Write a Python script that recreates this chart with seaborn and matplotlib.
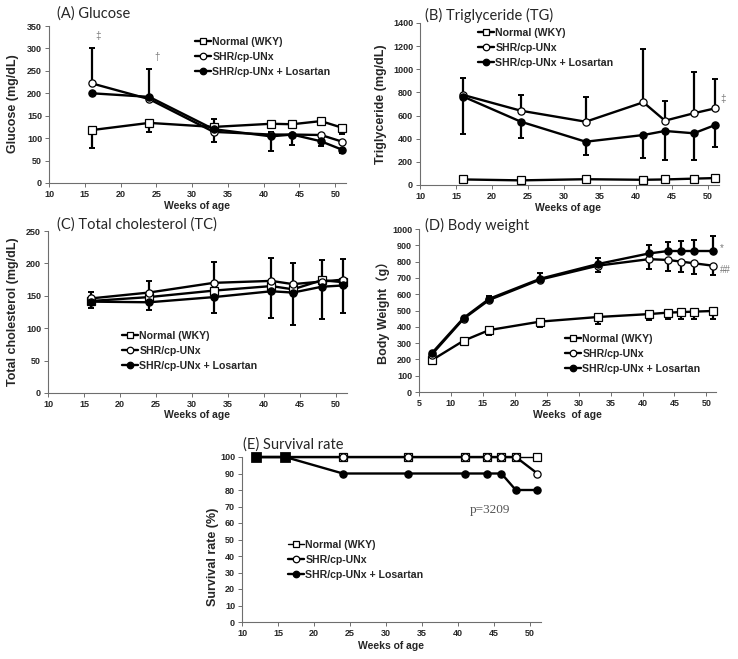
import numpy as np
import pandas as pd
import matplotlib
matplotlib.use("Agg")
import matplotlib.pyplot as plt
import seaborn as sns

# ============================================================
# Data
# ============================================================

groups = ["Normal (WKY)", "SHR/cp-UNx", "SHR/cp-UNx + Losartan"]

weeks = [16, 24, 33, 41, 44, 48, 51]

# (A) Glucose, mg/dL
glu_normal = [118, 134, 125, 132, 131, 138, 123]
glu_normal_lo = [39, 21, 0, 0, 0, 0, 14]
glu_normal_hi = [0, 0, 17, 0, 0, 0, 0]
glu_shr = [222, 187, 114, 108, 108, 107, 92]
glu_shr_lo = [0, 0, 22, 0, 0, 0, 0]
glu_shr_hi = [80, 0, 0, 0, 0, 0, 0]
glu_los = [200, 192, 120, 104, 108, 93, 74]
glu_los_lo = [0, 0, 0, 32, 23, 10, 7]
glu_los_hi = [0, 62, 0, 10, 0, 0, 0]

# (B) Triglyceride, mg/dL
tg_normal = [48, 40, 50, 45, 48, 55, 60]
tg_shr = [778, 642, 547, 715, 556, 620, 663]
tg_shr_hi = [150, 136, 210, 458, 170, 360, 250]
tg_los = [764, 547, 374, 432, 467, 447, 519]
tg_los_lo = [323, 144, 115, 196, 251, 231, 188]

# (C) Total cholesterol, mg/dL
tc_normal = [142, 148, 158, 165, 160, 174, 171]
tc_normal_hi = [0, 0, 0, 0, 0, 32, 0]
tc_shr = [146, 155, 170, 173, 168, 172, 175]
tc_shr_hi = [10, 18, 32, 36, 33, 0, 32]
tc_los = [141, 140, 148, 157, 155, 164, 166]
tc_los_lo = [10, 12, 24, 41, 50, 50, 42]

# (D) Body weight, g
weeks_bw = [7, 12, 16, 24, 33, 41, 44, 46, 48, 51]
bw_normal = [195, 315, 380, 432, 460, 478, 487, 490, 493, 497]
bw_normal_lo = [0, 0, 30, 32, 40, 38, 42, 45, 45, 50]
bw_shr = [230, 450, 565, 690, 775, 815, 810, 800, 790, 775]
bw_shr_lo = [0, 0, 0, 0, 38, 60, 65, 65, 65, 60]
bw_los = [238, 455, 572, 695, 785, 850, 865, 865, 865, 865]
bw_los_hi = [0, 0, 18, 35, 37, 52, 57, 63, 65, 90]

# (E) Survival rate, %
weeks_sv = [12, 16, 24, 33, 41, 44, 46, 48, 51]
sv_normal = [100, 100, 100, 100, 100, 100, 100, 100, 100]
sv_shr = [100, 100, 100, 100, 100, 100, 100, 100, 90]
sv_los = [100, 100, 90, 90, 90, 90, 90, 80, 80]

# ============================================================
# Styling / layout helpers
# ============================================================

sns.set_style("ticks")
plt.rcParams["font.family"] = ["Liberation Sans", "DejaVu Sans"]

W, H = 738, 659
fig = plt.figure(figsize=(W / 100, H / 100), dpi=100)


def box(l, t, r, b):
    return [l / W, 1 - b / H, (r - l) / W, (b - t) / H]


def fx(x):
    return x / W


def fy(y):
    return 1 - y / H


STYLE = {
    groups[0]: dict(marker="s", markerfacecolor="white"),
    groups[1]: dict(marker="o", markerfacecolor="white"),
    groups[2]: dict(marker="o", markerfacecolor="black"),
}


def draw_series(ax, x, y, name, lw=1.7):
    sns.lineplot(x=x, y=y, ax=ax, color="black", linewidth=lw,
                 markersize=5.2, markeredgecolor="black", markeredgewidth=0.9,
                 label=name, zorder=3, clip_on=False, **STYLE[name])


def draw_err(ax, x, y, lo=None, hi=None):
    x = np.asarray(x, float)
    y = np.asarray(y, float)
    for err, side in ((lo, "lo"), (hi, "hi")):
        if err is None:
            continue
        err = np.asarray(err, float)
        m = err > 0
        if not m.any():
            continue
        z = np.zeros(m.sum())
        yerr = [err[m], z] if side == "lo" else [z, err[m]]
        ax.errorbar(x[m], y[m], yerr=yerr, fmt="none", ecolor="black",
                    elinewidth=1.6, capsize=2.2, capthick=1.4, zorder=2,
                    clip_on=False)


def style_axes(ax, xlim, xticks, ylim, yticks):
    ax.set_xlim(*xlim)
    ax.set_ylim(*ylim)
    ax.set_xticks(xticks)
    ax.set_yticks(yticks)
    for s in ("top", "right"):
        ax.spines[s].set_visible(False)
    for s in ("left", "bottom"):
        ax.spines[s].set_color("#6e6e6e")
        ax.spines[s].set_linewidth(0.8)
    ax.tick_params(direction="out", length=3, width=0.7, color="#6e6e6e",
                   labelsize=6.5, pad=2)
    for lab in ax.get_xticklabels() + ax.get_yticklabels():
        lab.set_fontweight("bold")


def labels(ax, xlabel, ylabel, xl_pos, yl_pos, ylfamily=None):
    ax.set_xlabel(xlabel, fontsize=7.5, fontweight="bold")
    ax.xaxis.set_label_coords(fx(xl_pos[0]), fy(xl_pos[1]), transform=fig.transFigure)
    kw = {}
    if ylfamily:
        kw["family"] = ylfamily
    ax.set_ylabel(ylabel, fontsize=9, fontweight="bold", **kw)
    ax.yaxis.set_label_coords(fx(yl_pos[0]), fy(yl_pos[1]), transform=fig.transFigure)


def legend(ax, left, top):
    h, l = ax.get_legend_handles_labels()
    ax.legend(h, l, loc="upper left", bbox_to_anchor=(fx(left), fy(top)),
              bbox_transform=fig.transFigure, frameon=False, borderpad=0,
              borderaxespad=0, handlelength=1.5, handletextpad=0.15,
              labelspacing=0.48, markerscale=0.9,
              prop=dict(size=7.6, weight="bold"))


def title(text, x, y):
    fig.text(fx(x), fy(y), text, fontsize=10.5, family=["Lato", "DejaVu Sans"],
             ha="left", va="center")


x_ticks = list(range(10, 51, 5))
XLIM = (10, 51.5)
MARK = dict(color="#7a7a7a", fontsize=7, ha="center", va="center", clip_on=False)

# ============================================================
# (A) Glucose
# ============================================================
ax = fig.add_axes(box(49, 26, 346, 183))
draw_err(ax, weeks, glu_normal, glu_normal_lo, glu_normal_hi)
draw_err(ax, weeks, glu_shr, glu_shr_lo, glu_shr_hi)
draw_err(ax, weeks, glu_los, glu_los_lo, glu_los_hi)
draw_series(ax, weeks, glu_normal, groups[0])
draw_series(ax, weeks, glu_shr, groups[1])
draw_series(ax, weeks, glu_los, groups[2])
style_axes(ax, XLIM, x_ticks, (0, 350), range(0, 351, 50))
labels(ax, "Weeks of age", "Glucose (mg/dL)", (197, 201), (19, 104))
legend(ax, 195, 37)
ax.text(16.85, 328, "‡", **MARK)
ax.text(25.1, 281, "†", **MARK)
title("(A) Glucose", 57, 14)

# ============================================================
# (B) Triglyceride
# ============================================================
ax = fig.add_axes(box(420, 23, 719, 185))
draw_err(ax, weeks, tg_shr, None, tg_shr_hi)
draw_err(ax, weeks, tg_los, tg_los_lo, None)
draw_series(ax, weeks, tg_normal, groups[0])
draw_series(ax, weeks, tg_shr, groups[1])
draw_series(ax, weeks, tg_los, groups[2])
style_axes(ax, XLIM, x_ticks, (0, 1400), range(0, 1401, 200))
labels(ax, "Weeks of age", "Triglyceride (mg/dL)", (568, 203), (387, 104))
legend(ax, 478, 28)
ax.text(52.1, 743, "‡", **MARK)
title("(B) Triglyceride (TG)", 425, 15)

# ============================================================
# (C) Total cholesterol
# ============================================================
ax = fig.add_axes(box(48, 231, 347, 393))
draw_err(ax, weeks, tc_normal, None, tc_normal_hi)
draw_err(ax, weeks, tc_shr, None, tc_shr_hi)
draw_err(ax, weeks, tc_los, tc_los_lo, None)
draw_series(ax, weeks, tc_normal, groups[0])
draw_series(ax, weeks, tc_shr, groups[1])
draw_series(ax, weeks, tc_los, groups[2])
style_axes(ax, XLIM, x_ticks, (0, 250), range(0, 251, 50))
labels(ax, "Weeks of age", "Total cholesterol (mg/dL)", (197, 410), (19, 312))
legend(ax, 122, 331)
title("(C) Total cholesterol (TC)", 57, 225)

# ============================================================
# (D) Body weight
# ============================================================
ax = fig.add_axes(box(419, 229, 716, 392))
draw_err(ax, weeks_bw, bw_normal, bw_normal_lo, None)
draw_err(ax, weeks_bw, bw_shr, bw_shr_lo, None)
draw_err(ax, weeks_bw, bw_los, None, bw_los_hi)
draw_series(ax, weeks_bw, bw_normal, groups[0])
draw_series(ax, weeks_bw, bw_shr, groups[1])
draw_series(ax, weeks_bw, bw_los, groups[2])
style_axes(ax, (5, 51.5), range(5, 51, 5), (0, 1000), range(0, 1001, 100))
labels(ax, "Weeks  of age", "Body Weight（g）", (567, 410), (390, 310),
       ylfamily=["Liberation Sans", "Noto Sans CJK SC"])
legend(ax, 565, 334)
ax.text(52.1, 883, "*", color="#7a7a7a", fontsize=7, ha="left", va="center", clip_on=False)
ax.text(52.1, 748, "##", color="#7a7a7a", fontsize=7, ha="left", va="center", clip_on=False)
title("(D) Body weight", 425, 225)

# ============================================================
# (E) Survival rate
# ============================================================
ax = fig.add_axes(box(242, 457, 541, 622))
draw_series(ax, weeks_sv, sv_normal, groups[0], lw=1.0)
draw_series(ax, weeks_sv, sv_shr, groups[1])
draw_series(ax, weeks_sv, sv_los, groups[2])
# first two time points: every group overlaps, plotted as filled squares
sns.scatterplot(x=weeks_sv[:2], y=sv_los[:2], ax=ax, marker="s", s=45,
                color="black", edgecolor="black", zorder=4, clip_on=False)
style_axes(ax, XLIM, x_ticks, (0, 100), range(0, 101, 10))
labels(ax, "Weeks of age", "Survival rate (%)", (391, 641), (219, 557))
legend(ax, 288, 540)
ax.text(41.6, 68, "p=3209", family=["Liberation Serif", "DejaVu Serif"],
        fontsize=9.5, color="#555555", ha="left", va="center")
title("(E) Survival rate", 243, 445)

fig.savefig("out.png", dpi=100)
